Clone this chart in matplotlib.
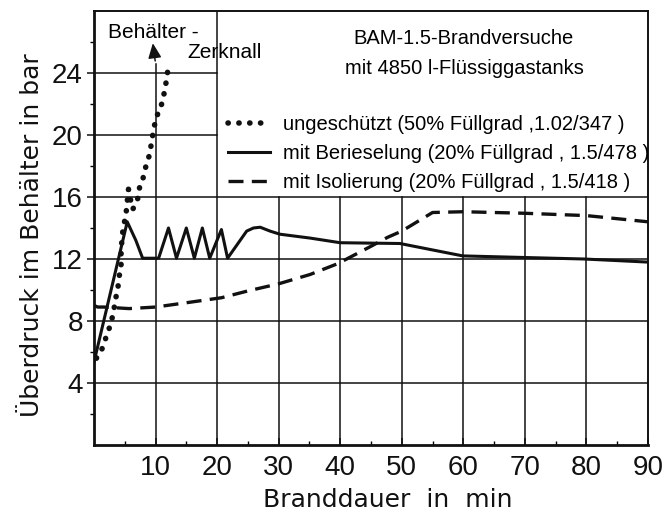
import numpy as np
import matplotlib
matplotlib.use('Agg')
import matplotlib.pyplot as plt
from matplotlib.lines import Line2D

# Brandversuche - Ueberdruck im Behaelter ueber der Branddauer
dotted_t = [0.4, 1.3, 2.0, 2.8, 3.3, 3.6, 3.9, 4.1, 4.4, 4.4, 4.7, 5.2, 5.6, 6.0, 6.3, 7.1, 7.4, 7.9, 8.5, 9.0, 9.3, 9.7, 10.1, 10.6, 11.0, 11.4, 11.8, 12.1]
dotted_p = [5.6, 6.2, 7.0, 7.9, 8.9, 9.6, 10.2, 10.9, 11.5, 12.6, 13.9, 14.9, 16.5, 15.7, 15.2, 15.9, 16.6, 17.1, 18.1, 18.7, 19.4, 20.4, 21.1, 21.6, 22.0, 22.7, 23.6, 24.5]

solid_t = [0, 5.4, 6.8, 7.9, 10.5, 12.1, 13.4, 15.0, 16.3, 17.6, 18.8, 20.7, 21.7, 24.8, 25.9, 27.0, 28.6, 30.2, 35.1, 40.0, 49.7, 59.9, 69.6, 79.6, 90]
solid_p = [5.35, 14.4, 13.2, 12.05, 12.05, 14.0, 12.05, 14.0, 12.05, 14.0, 12.05, 13.9, 12.05, 13.8, 14.0, 14.05, 13.8, 13.6, 13.35, 13.05, 13.0, 12.2, 12.1, 12.0, 11.8]

dashed_t = [0, 0.6, 1.6, 5.7, 10, 15.4, 20.7, 25.1, 30, 35.1, 39.6, 44.9, 47.7, 50, 55, 60, 70, 80, 90]
dashed_p = [9.0, 8.9, 8.9, 8.8, 8.9, 9.2, 9.5, 9.95, 10.4, 11.0, 11.7, 12.8, 13.4, 13.8, 15.0, 15.05, 14.95, 14.8, 14.4]

labels = ['ungeschützt (50% Füllgrad ,1.02/347 )',
          'mit Berieselung (20% Füllgrad , 1.5/478 )',
          'mit Isolierung (20% Füllgrad , 1.5/418 )']
title_lines = ['BAM-1.5-Brandversuche', 'mit 4850 l-Flüssiggastanks']
xticks = [10, 20, 30, 40, 50, 60, 70, 80, 90]
yticks = [4, 8, 12, 16, 20, 24]

narrow = ['Liberation Sans', 'DejaVu Sans']
ink = '#111111'

fig = plt.figure(figsize=(6.64, 5.15), dpi=100)
ax = fig.add_axes([94 / 664, 1 - 445 / 515, 554 / 664, 434 / 515])
ax.set_xlim(0, 90)
ax.set_ylim(0, 28)

# grid: full width below 16, only the left box above it
for y in yticks:
    xmax = 90 if y <= 16 else 20
    ax.plot([0, xmax], [y, y], color=ink, lw=1.1, zorder=1)
for x in xticks[:-1]:
    ytop = 16 if x > 20 else (28 if x == 20 else 24.6)
    ax.plot([x, x], [0, ytop], color=ink, lw=1.1, zorder=1)

ax.plot(dotted_t, dotted_p, color=ink, lw=4.0, linestyle=(0, (0.05, 1.9)),
        dash_capstyle='round', zorder=3)
ax.plot(solid_t, solid_p, color=ink, lw=2.2, zorder=3)
ax.plot(dashed_t, dashed_p, color=ink, lw=2.4, linestyle=(0, (4.5, 2.5)), zorder=3)

handles = [Line2D([], [], color=ink, lw=4.0, linestyle=(0, (0.05, 1.9)), dash_capstyle='round'),
           Line2D([], [], color=ink, lw=2.2),
           Line2D([], [], color=ink, lw=2.4, linestyle=(0, (4.5, 2.5)))]
leg = ax.legend(handles, labels, loc='upper left', bbox_to_anchor=(228 / 664, 1 - 115 / 515),
                bbox_transform=fig.transFigure, frameon=False, borderpad=0, borderaxespad=0,
                handlelength=2.1, handletextpad=0.65, labelspacing=0.5,
                prop={'family': narrow, 'size': 14.5})

ax.text(60.1, 26.2, title_lines[0], ha='center', va='center', family=narrow, fontsize=14.5)
ax.text(60.1, 24.3, title_lines[1], ha='center', va='center', family=narrow, fontsize=14.5)

ax.text(2.2, 26.6, 'Behälter -', ha='left', va='center', family=narrow, fontsize=15)
ax.text(15.1, 25.3, 'Zerknall', ha='left', va='center', family=narrow, fontsize=15)
ax.annotate('', xy=(9.5, 26.1), xytext=(10.0, 24.6),
            arrowprops=dict(arrowstyle='-|>,head_length=0.9,head_width=0.4', color=ink, lw=1.1))

ax.set_xticks(xticks)
ax.set_yticks(yticks)
ax.set_xticks(np.arange(5, 90, 10), minor=True)
ax.set_yticks(np.arange(2, 28, 4), minor=True)
ax.tick_params(axis='x', which='major', direction='in', length=5, width=1.1, pad=7, labelsize=20, colors=ink)
ax.tick_params(axis='x', which='minor', direction='in', length=3, width=1.0)
ax.tick_params(axis='y', which='major', direction='out', length=5, width=1.1, pad=3, labelsize=20, colors=ink)
ax.tick_params(axis='y', which='minor', direction='out', length=3, width=1.0)
for lab in ax.get_xticklabels() + ax.get_yticklabels():
    lab.set_family(['Liberation Sans', 'DejaVu Sans'])

for side in ['left', 'bottom']:
    ax.spines[side].set_linewidth(2.0)
for side in ['top', 'right']:
    ax.spines[side].set_linewidth(1.4)
for sp in ax.spines.values():
    sp.set_color(ink)

fig.text(388 / 664, 1 - 500 / 515, 'Branddauer  in  min', ha='center', va='center', fontsize=18, color=ink)
fig.text(32 / 664, 1 - 235 / 515, 'Überdruck im Behälter in bar', ha='center', va='center',
         rotation=90, fontsize=18, color=ink)

fig.savefig('out.png', dpi=100)
